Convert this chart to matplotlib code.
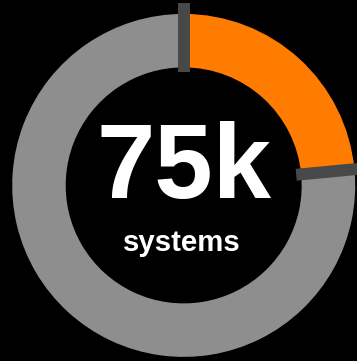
import matplotlib.pyplot as plt
import numpy as np

# share of systems highlighted vs the rest
labels = ["highlighted", "rest"]
shares = [23.5, 76.5]
colours = ["#ff7c00", "#8e8e8e"]
big_label = "75k"
small_label = "systems"

W, H = 357, 361
cx, cy = 183.7, 175.6
r_out, r_in = 171.5, 118.0
sep_colour = "#484848"

fig = plt.figure(figsize=(W / 100, H / 100), dpi=100, facecolor="black")
ax = fig.add_axes([0, 0, 1, 1])
ax.set_facecolor("black")

ax.pie(shares, colors=colours, radius=r_out, center=(cx, cy),
       startangle=90, counterclock=False,
       wedgeprops=dict(width=r_out - r_in, linewidth=0))

# separators at the start and end of the highlighted wedge
edges = [90, 90 - 360 * shares[0] / sum(shares)]
for a in edges:
    t = np.deg2rad(a)
    ax.plot([cx + 113 * np.cos(t), cx + 182 * np.cos(t)],
            [cy + 113 * np.sin(t), cy + 182 * np.sin(t)],
            color=sep_colour, lw=8.6, solid_capstyle="butt", zorder=3)

ax.text(cx, H - 198, big_label, ha="center", va="baseline", color="white",
        fontsize=75.5, fontweight="bold", family="Liberation Sans")
ax.text(cx - 2, H - 251, small_label, ha="center", va="baseline", color="white",
        fontsize=21.2, fontweight="bold", family="Liberation Sans")

ax.set_xlim(0, W)
ax.set_ylim(0, H)
ax.set_aspect("equal")
ax.axis("off")

fig.savefig("out.png", dpi=100, facecolor="black")
